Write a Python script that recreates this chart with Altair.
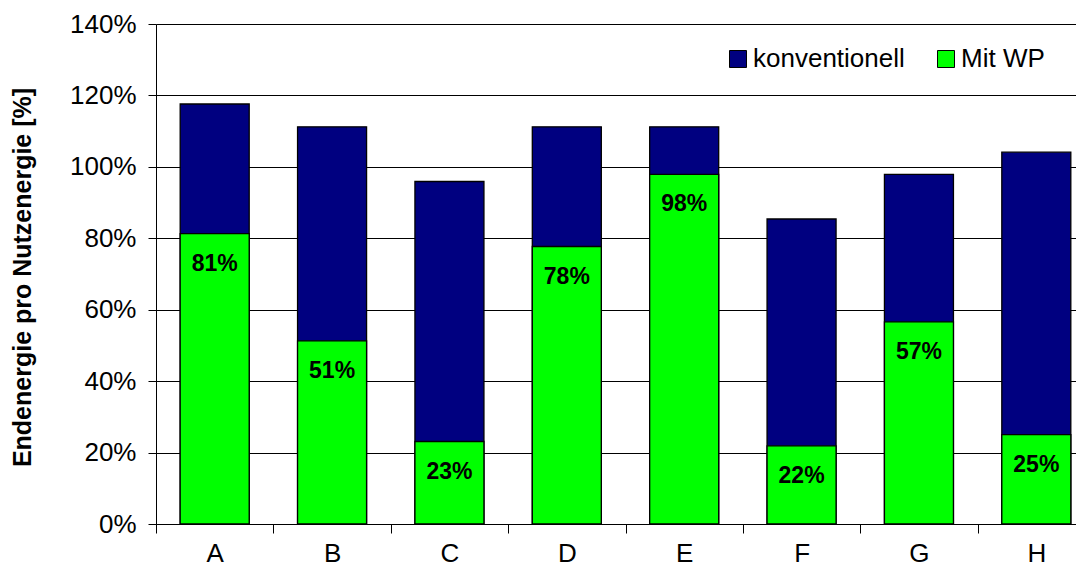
import altair as alt
import pandas as pd

categories = ["A", "B", "C", "D", "E", "F", "G", "H"]
konventionell = [1.176, 1.112, 0.959, 1.112, 1.112, 0.854, 0.979, 1.041]
mit_wp = [0.813, 0.513, 0.231, 0.777, 0.979, 0.219, 0.566, 0.25]
series_names = ["konventionell", "Mit WP"]
series_colors = ["#000080", "#00FF00"]
y_ticks = [0, 0.2, 0.4, 0.6, 0.8, 1.0, 1.2, 1.4]
y_title = "Endenergie pro Nutzenergie [%]"

rows = []
for c, v in zip(categories, konventionell):
    rows.append({"cat": c, "series": series_names[0], "value": v})
for c, v in zip(categories, mit_wp):
    rows.append({"cat": c, "series": series_names[1], "value": v})
df = pd.DataFrame(rows)
wp_df = pd.DataFrame({"cat": categories, "value": mit_wp})

FONT = "Liberation Sans"

x_enc = alt.X(
    "cat:N",
    sort=categories,
    scale=alt.Scale(domain=categories, range=[0, 939], paddingInner=0, paddingOuter=0),
    axis=alt.Axis(
        title=None, labelAngle=0, tickBand="extent", ticks=True, tickSize=9,
        labelPadding=7, labelFontSize=26, labelFont=FONT, labelColor="#000",
        domainColor="#000", tickColor="#000", grid=False,
    ),
)

bars = alt.Chart(df).mark_bar(
    width=alt.RelativeBandSize(0.588), stroke="#000", strokeWidth=1.3
).encode(
    x=x_enc,
    y=alt.Y(
        "value:Q",
        stack=None,
        scale=alt.Scale(domain=[0, 1.4], nice=False),
        axis=alt.Axis(
            values=y_ticks, format=".0%", title=y_title, grid=True,
            gridColor="#000", gridWidth=1, tickSize=8, labelPadding=12,
            labelFontSize=26, labelFont=FONT, labelColor="#000",
            domainColor="#000", tickColor="#000",
            titleFontSize=25, titleFont=FONT, titleFontWeight="bold",
            titleColor="#000", titleAngle=270, titleX=-134, titleY=253,
            titleAlign="center", titleBaseline="middle",
        ),
    ),
    color=alt.Color(
        "series:N",
        sort=series_names,
        scale=alt.Scale(domain=series_names, range=series_colors),
        legend=alt.Legend(
            title=None, orient="none", legendX=569, legendY=22,
            direction="horizontal", symbolType="square", symbolSize=289,
            symbolStrokeColor="#000", symbolStrokeWidth=1,
            labelFontSize=26, labelFont=FONT, labelColor="#000",
            labelOffset=2, columnPadding=28, padding=0,
        ),
    ),
    order=alt.Order("series:N", sort="descending"),
)

labels = alt.Chart(wp_df).mark_text(
    fontSize=23, fontWeight="bold", font=FONT, color="#000",
    dy=30, baseline="middle", align="center",
).encode(
    x=alt.X("cat:N", sort=categories),
    y=alt.Y("value:Q"),
    text=alt.Text("value:Q", format=".0%"),
)

chart = alt.layer(bars, labels).properties(
    width=920, height=500,
    autosize=alt.AutoSizeParams(type="none"),
    padding={"left": 148, "top": 16, "right": 0, "bottom": 44},
).configure_view(stroke=None).configure(background="white")

chart.save("out.html", embed_options={"renderer": "svg", "actions": False})
